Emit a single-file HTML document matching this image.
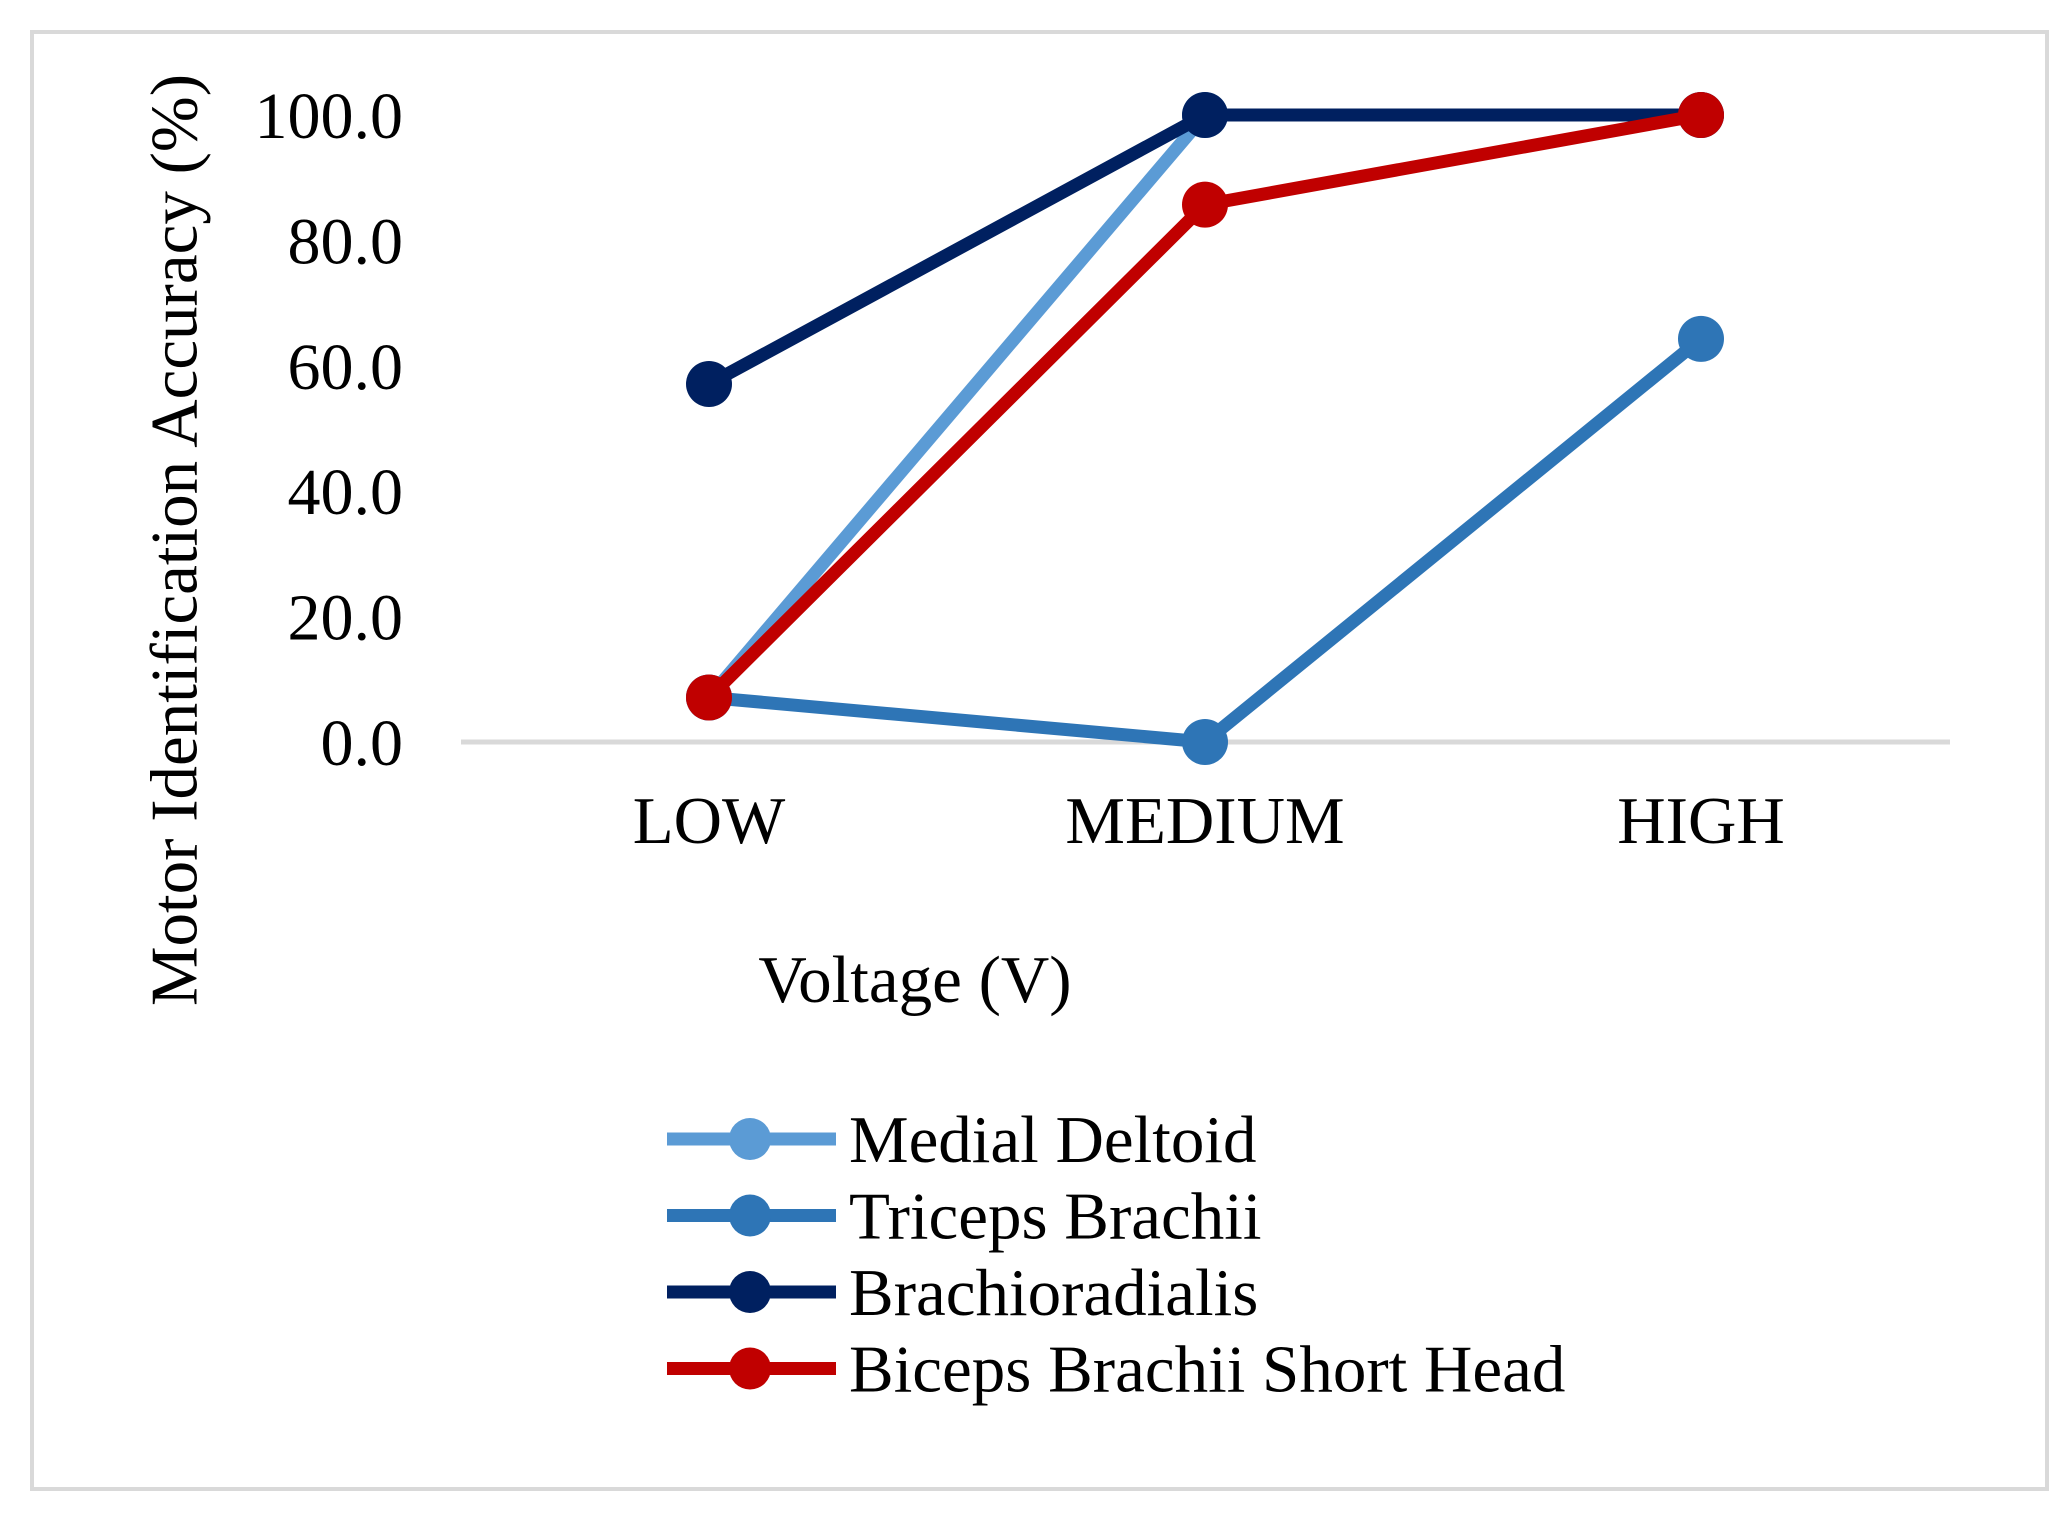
<!DOCTYPE html>
<html><head><meta charset="utf-8"><style>
body{margin:0;background:#fff;}
svg{display:block;font-family:"Liberation Serif",serif;}
</style></head><body>
<svg id="chart" width="2071" height="1522" viewBox="0 0 2071 1522">
<rect x="32" y="32" width="2015" height="1457" fill="#fff" stroke="#d9d9d9" stroke-width="4"/>
<g id="axes"></g>
<g id="series"></g>
<text x="181" y="540" font-size="67" text-anchor="middle" transform="rotate(-90 181 540)" dominant-baseline="middle">Motor Identification Accuracy (%)</text>
<text x="915" y="1002" font-size="67" text-anchor="middle">Voltage (V)</text>
<g id="legend"></g>
</svg>
<script>
const categories = ["LOW", "MEDIUM", "HIGH"];
const yTicks = [0, 20, 40, 60, 80, 100];
const seriesNames = ["Medial Deltoid", "Triceps Brachii", "Brachioradialis", "Biceps Brachii Short Head"];
const medialDeltoid = [7.1, 100, 100];
const tricepsBrachii = [7.1, 0, 64.3];
const brachioradialis = [57.1, 100, 100];
const bicepsShortHead = [7.1, 85.7, 100];
const seriesValues = [medialDeltoid, tricepsBrachii, brachioradialis, bicepsShortHead];
const colors = ["#5b9bd5", "#2e75b6", "#002060", "#c00000"];
const NS = "http://www.w3.org/2000/svg";
const xPos = i => 709 + i * 496;
const yPos = v => 742 - v * 6.27;
function mk(tag, attrs, parent){const e=document.createElementNS(NS,tag);for(const k in attrs)e.setAttribute(k,attrs[k]);parent.appendChild(e);return e;}
const axes=document.getElementById('axes');
const base=mk('line',{x1:461,x2:1950,y1:yPos(0),y2:yPos(0),stroke:'#d9d9d9','stroke-width':5},axes);


yTicks.forEach(t=>{
  const tx=mk('text',{x:403,y:yPos(t)+23,'font-size':66,'text-anchor':'end'},axes);
  tx.textContent=t.toFixed(1);
  
  
});
categories.forEach((c,i)=>{
  const tx=mk('text',{x:xPos(i),y:843,'font-size':67,'text-anchor':'middle'},axes);
  tx.textContent=c;
  
  
});
const sg=document.getElementById('series');
seriesValues.forEach((vals,s)=>{
  const g=mk('g',{},sg);
  
  
  const pl=mk('polyline',{points:vals.map((v,i)=>xPos(i)+','+yPos(v)).join(' '),fill:'none',stroke:colors[s],'stroke-width':13,'stroke-linejoin':'round'},g);
  
  
  vals.forEach((v,i)=>{
    const c=mk('circle',{cx:xPos(i),cy:yPos(v),r:23,fill:colors[s]},g);
    
    
  });
});
const lg=document.getElementById('legend');
seriesNames.forEach((n,s)=>{
  const y=1139+s*76.5;
  const g=mk('g',{},lg);
  
  
  mk('line',{x1:667,x2:836,y1:y,y2:y,stroke:colors[s],'stroke-width':13},g);
  mk('circle',{cx:750,cy:y,r:21,fill:colors[s]},g);
  const t=mk('text',{x:849,y:y+23,'font-size':67},g);
  t.textContent=n;
});
</script>
</body></html>
